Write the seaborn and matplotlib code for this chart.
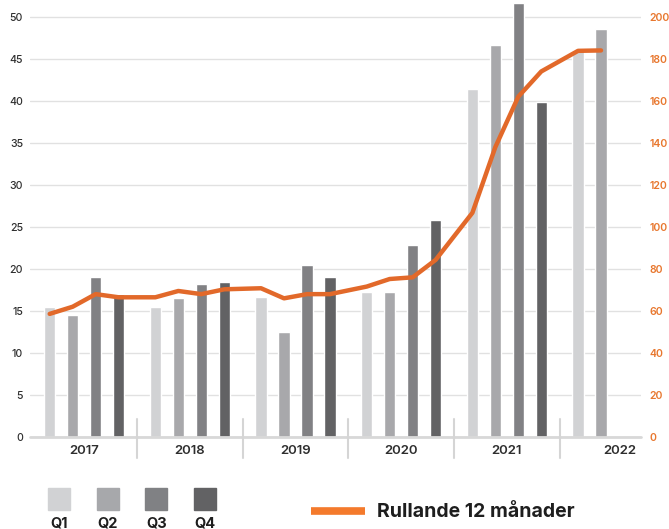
import numpy as np
import pandas as pd
import matplotlib
matplotlib.use("Agg")
import matplotlib.pyplot as plt
from matplotlib.lines import Line2D
from matplotlib.patches import Rectangle
import matplotlib.transforms as mtransforms
import seaborn as sns

# Data
years = ["2017", "2018", "2019", "2020", "2021", "2022"]
quarters = ["Q1", "Q2", "Q3", "Q4"]
quarterly = [
    [15.5, 14.5, 19.0, 17.0],   # 2017
    [15.5, 16.5, 18.25, 18.5],  # 2018
    [16.6, 12.5, 20.5, 19.0],   # 2019
    [17.3, 17.3, 22.8, 25.8],   # 2020
    [41.4, 46.7, 51.6, 39.9],   # 2021
    [46.0, 48.6],               # 2022
]
rolling_12m = [
    58.6, 62.0, 68.0, 66.5,
    66.5, 69.5, 68.0, 70.3,
    70.8, 66.0, 68.0, 68.0,
    71.6, 75.2, 76.0, 84.3,
    106.7, 138.0, 162.0, 174.0,
    183.8, 184.0,
]
line_label = "Rullande 12 månader"

# layout
group_step = 4.6  # 4 quarter slots + gap
q_colors = ["#D1D2D4", "#A7A8AB", "#808184", "#626264"]
orange = "#E2692A"
orange_tick = "#E8772E"
orange_leg = "#F47A2C"
grid_col = "#E1E1E1"
text_col = "#2E2E2E"

rows = []
for yi, vals in enumerate(quarterly):
    for qi, v in enumerate(vals):
        rows.append({"pos": yi * group_step + qi, "year": years[yi],
                     "quarter": quarters[qi], "value": v})
df = pd.DataFrame(rows)
df["rolling"] = rolling_12m

sns.set_style("white")
plt.rcParams["font.family"] = ["Inter", "DejaVu Sans"]

fig = plt.figure(figsize=(6.69, 5.29), dpi=100)
ax = fig.add_axes([30 / 669, 92 / 529, 611 / 669, 437 / 529])

sns.barplot(data=df, x="pos", y="value", hue="quarter", palette=q_colors,
            native_scale=True, dodge=False, width=0.5, errorbar=None,
            legend=False, ax=ax, zorder=3)

ax.set_xlim(-0.857, 25.74)
ax.set_ylim(0, 52)
ax.set_yticks(np.arange(0, 51, 5))
ax.yaxis.grid(True, color=grid_col, lw=1.0, zorder=0)
ax.set_axisbelow(True)
for s in ax.spines.values():
    s.set_visible(False)
ax.axhline(0, color="#D8D8D8", lw=2.0, zorder=4, clip_on=False)
ax.tick_params(axis="y", length=0, pad=5, labelsize=7.6, labelcolor=text_col)
for t in ax.get_yticklabels():
    t.set_fontweight("medium")

# year labels and separators
centers = [yi * group_step + 1.5 for yi in range(len(years))]
centers[-1] += 0.3
ax.set_xticks(centers)
ax.set_xticklabels(years, fontsize=9.5, fontweight="semibold", color=text_col)
ax.tick_params(axis="x", length=0, pad=6)
ax.set_xlabel("")
ax.set_ylabel("")
trans = mtransforms.blended_transform_factory(ax.transData, ax.transAxes)
for yi in range(len(years) - 1):
    xs = yi * group_step + 3.8
    ax.plot([xs, xs], [0.041, -0.048], color="#D5D5D5", lw=1.5,
            transform=trans, clip_on=False, zorder=5)

# rolling 12 months on right axis
ax2 = ax.twinx()
sns.lineplot(data=df, x="pos", y="rolling", color=orange, lw=3.2, ax=ax2,
             zorder=6)
ax2.set_ylim(0, 208)
ax2.set_yticks(np.arange(0, 201, 20))
for s in ax2.spines.values():
    s.set_visible(False)
ax2.tick_params(axis="y", length=0, pad=6, labelsize=7.6, labelcolor=orange_tick)
for t in ax2.get_yticklabels():
    t.set_fontweight("semibold")
ax2.set_ylabel("")
ax2.set_xlabel("")
ax2.set_xlim(ax.get_xlim())

# quarter legend (squares with labels under)
W, H = 669, 529
for qi, q in enumerate(quarters):
    x0 = 48 + qi * 48.7
    fig.add_artist(Rectangle((x0 / W, (H - 510) / H), 22 / W, 22 / H,
                             transform=fig.transFigure, color=q_colors[qi]))
    fig.text((x0 + 11) / W, (H - 523) / H, q, ha="center", va="center",
             fontsize=10.5, fontweight="bold", color="#1E1E1E")

fig.add_artist(Line2D([311 / W, 365 / W], [(H - 511) / H] * 2,
                      transform=fig.transFigure, color=orange_leg, lw=5.5,
                      solid_capstyle="butt"))
fig.text(377 / W, (H - 512) / H, line_label, ha="left", va="center",
         fontsize=14, fontweight="bold", color="#1E1E1E")

fig.savefig("out.png", dpi=100)
